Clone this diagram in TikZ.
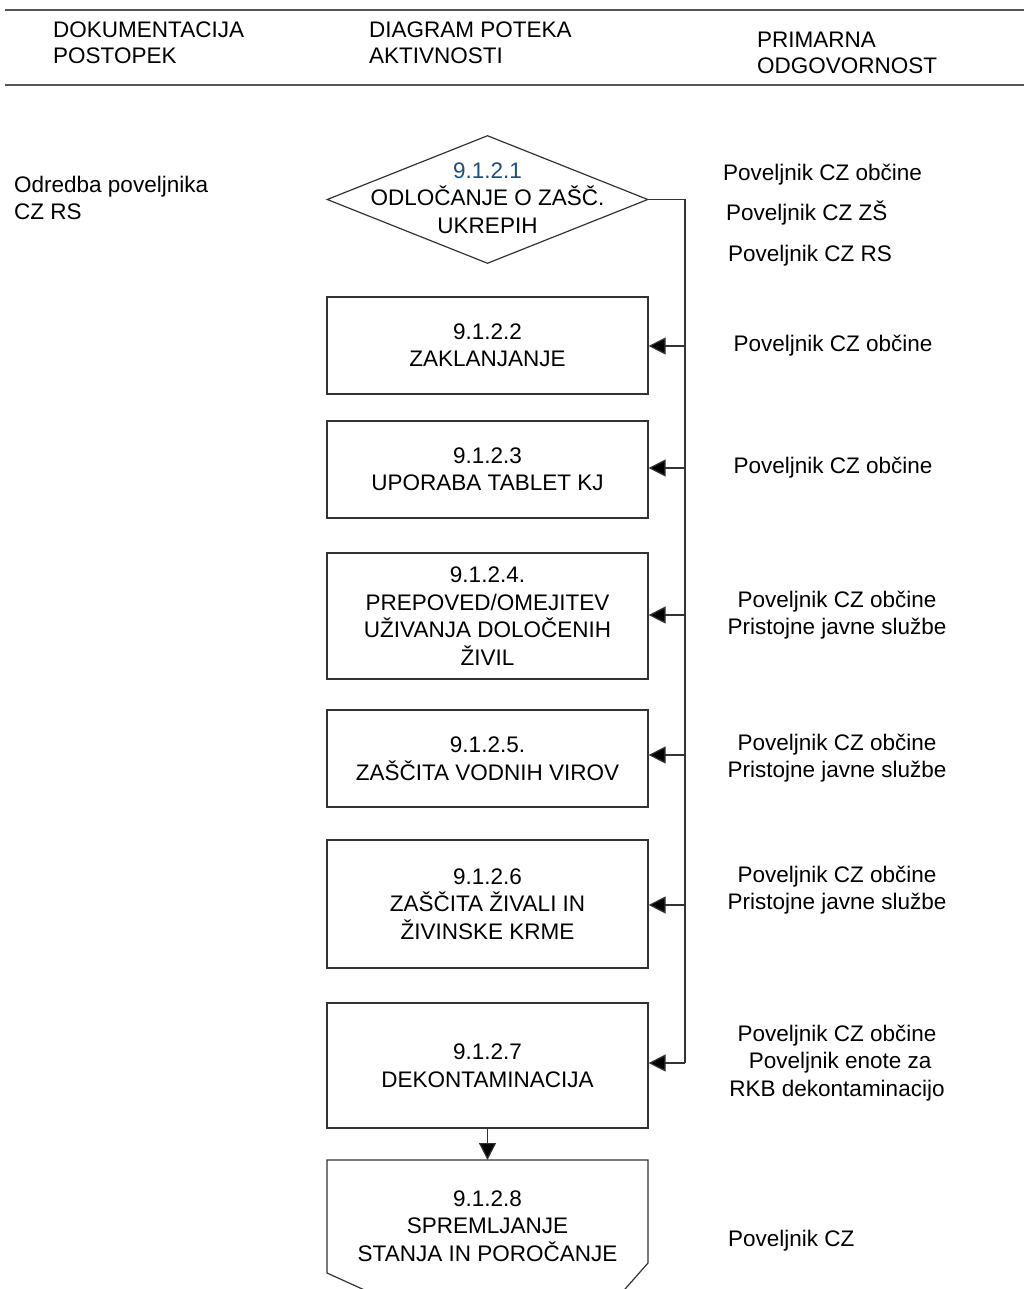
\documentclass[tikz,border=0pt]{standalone}
\usepackage{fontspec}
\setmainfont{Liberation Sans}
\usetikzlibrary{shapes.geometric,arrows.meta}
\definecolor{lc}{HTML}{333333}
\definecolor{hc}{HTML}{555555}
\definecolor{numblue}{HTML}{1F4E79}
\begin{document}
\begin{tikzpicture}[x=1pt,y=-1pt,
  txt/.style={font=\fontsize{22.5}{27.5}\selectfont, inner sep=0pt, align=center},
  ltxt/.style={font=\fontsize{22.5}{26.5}\selectfont, inner sep=0pt, align=left, anchor=west},
  box/.style={draw=lc, line width=1.2pt, minimum width=321pt, inner sep=0pt, align=center,
    font=\fontsize{22.5}{27.5}\selectfont},
  arr/.style={draw=lc, line width=1.2pt, -{Triangle[length=17pt,width=17pt,fill=black]}},
  conn/.style={draw=lc, line width=1.2pt}]
\useasboundingbox (0,0) rectangle (1024,1289);
\clip (0,0) rectangle (1024,1289);
\fill[white] (0,0) rectangle (1024,1289);
% header
\draw[hc, line width=2pt] (5,10) -- (1024,10);
\draw[hc, line width=2pt] (5,85) -- (1024,85);
\node[ltxt] (h1) at (53,43) {DOKUMENTACIJA\\POSTOPEK};
\node[ltxt] (h2) at (369,43) {DIAGRAM POTEKA\\AKTIVNOSTI};
\node[ltxt] (h3) at (757,53) {PRIMARNA\\ODGOVORNOST};
% left column
\node[ltxt] (doc) at (14,198) {Odredba poveljnika\\CZ RS};
% diamond
\node[draw=lc, line width=1.2pt, diamond, minimum width=321pt, minimum height=128pt, inner sep=0pt] (n1) at (487.5,199.5) {};
\node[txt] (n1t) at (487.5,198) {\textcolor{numblue}{9.1.2.1}\\ODLOČANJE O ZAŠČ.\\UKREPIH};
% boxes
\node[box, minimum height=97pt] (b2) at (487.5,345.5) {9.1.2.2\\ZAKLANJANJE};
\node[box, minimum height=97pt] (b3) at (487.5,469.5) {9.1.2.3\\UPORABA TABLET KJ};
\node[box, minimum height=126pt] (b4) at (487.5,616) {9.1.2.4.\\PREPOVED/OMEJITEV\\UŽIVANJA DOLOČENIH\\ŽIVIL};
\node[box, minimum height=97pt] (b5) at (487.5,758.5) {9.1.2.5.\\ZAŠČITA VODNIH VIROV};
\node[box, minimum height=128pt] (b6) at (487.5,904) {9.1.2.6\\ZAŠČITA ŽIVALI IN\\ŽIVINSKE KRME};
\node[box, minimum height=125pt] (b7) at (487.5,1065.5) {9.1.2.7\\DEKONTAMINACIJA};
% last (off-page) shape
\draw[lc, line width=1.2pt] (380,1297) -- (327,1273) -- (327,1160) -- (648,1160) -- (648,1263) -- (618,1297);
\coordinate (b8top) at (487.5,1160);
\node[txt] (b8) at (487.5,1226) {9.1.2.8\\SPREMLJANJE\\STANJA IN POROČANJE};
% connectors
\coordinate (bus) at (685,199.5);
\coordinate (busend) at (685,1063);
\draw[conn] (n1.east) -- (bus) -- (busend);
\coordinate (t2) at (685,346);
\coordinate (t3) at (685,468);
\coordinate (t4) at (685,615);
\coordinate (t5) at (685,755);
\coordinate (t6) at (685,905);
\draw[arr] (t2) -- (t2 -| b2.east);
\draw[arr] (t3) -- (t3 -| b3.east);
\draw[arr] (t4) -- (t4 -| b4.east);
\draw[arr] (t5) -- (t5 -| b5.east);
\draw[arr] (t6) -- (t6 -| b6.east);
\draw[arr] (busend) -- (busend -| b7.east);
\draw[arr] (b7.south) -- (b8top);
% responsibilities
\node[ltxt] (r1a) at (723,175) {Poveljnik CZ občine};
\node[ltxt] (r1b) at (726,213) {Poveljnik CZ ZŠ};
\node[ltxt] (r1c) at (728,256) {Poveljnik CZ RS};
\node[txt] (r2) at (833,346) {Poveljnik CZ občine};
\node[txt] (r3) at (833,468) {Poveljnik CZ občine};
\node[txt] (r4) at (837,615) {Poveljnik CZ občine\\Pristojne javne službe};
\node[txt] (r5) at (837,758) {Poveljnik CZ občine\\Pristojne javne službe};
\node[txt] (r6) at (837,890) {Poveljnik CZ občine\\Pristojne javne službe};
\node[txt] (r7) at (837,1063) {Poveljnik CZ občine\\\ Poveljnik enote za\\RKB dekontaminacijo};
\node[ltxt] (r8) at (728,1241) {Poveljnik CZ};
\end{tikzpicture}
\end{document}
